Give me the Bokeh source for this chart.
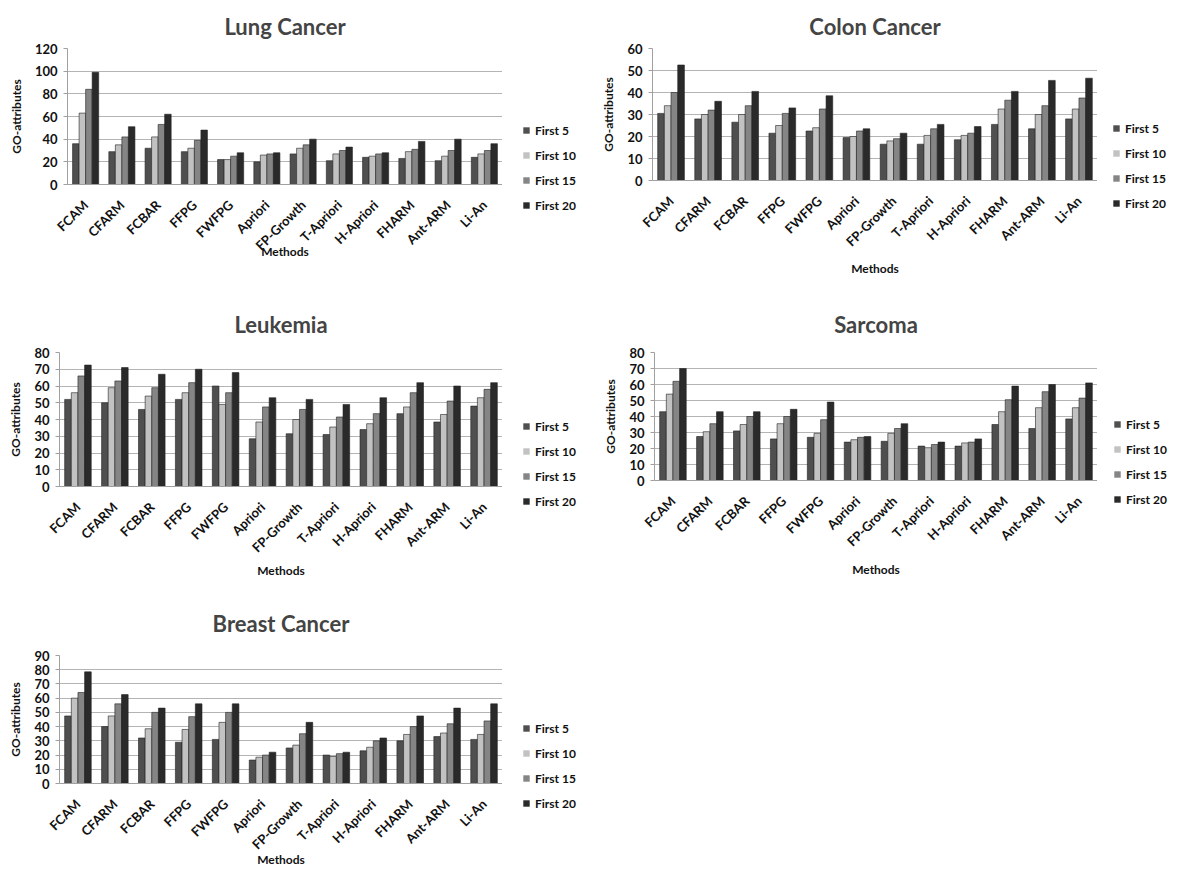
import math
from bokeh.plotting import figure
from bokeh.models import ColumnDataSource, FactorRange, Range1d, SingleIntervalTicker, Legend, LegendItem, Spacer
from bokeh.transform import dodge
from bokeh.layouts import row, column
from bokeh.embed import file_html
from bokeh.resources import INLINE

methods = ["FCAM", "CFARM", "FCBAR", "FFPG", "FWFPG", "Apriori", "FP-Growth",
           "T-Apriori", "H-Apriori", "FHARM", "Ant-ARM", "Li-An"]
series = ["First 5", "First 10", "First 15", "First 20"]

lung_f5 = [36, 29, 32, 29, 22, 20, 27, 21, 24, 23, 21, 24]
lung_f10 = [63, 35, 42, 32, 22, 26, 32, 27, 25, 29, 25, 27]
lung_f15 = [84, 42, 53, 39, 25, 27, 35, 30, 27, 31, 30, 30]
lung_f20 = [99, 51, 62, 48, 28, 28, 40, 33, 28, 38, 40, 36]

colon_f5 = [30.5, 28, 26.5, 21.5, 22.5, 19.5, 16.5, 16.5, 18.5, 25.5, 23.5, 28]
colon_f10 = [34, 30, 30, 25, 24, 20, 18, 20.5, 20.5, 32.5, 30, 32.5]
colon_f15 = [40, 32, 34, 30.5, 32.5, 22.5, 19, 23.5, 21.5, 36.5, 34, 37.5]
colon_f20 = [52.5, 36, 40.5, 33, 38.5, 23.5, 21.5, 25.5, 24.5, 40.5, 45.5, 46.5]

leuk_f5 = [52, 50, 46, 52, 60, 28.5, 31.5, 31, 34, 43.5, 38.5, 48]
leuk_f10 = [56, 59, 54, 56, 49, 38.5, 40, 35.5, 37.5, 47.5, 43, 53]
leuk_f15 = [66, 63, 59, 62, 56, 47.5, 46, 41.5, 43.5, 56, 51, 58]
leuk_f20 = [72.5, 71, 67, 70, 68, 53, 52, 49, 53, 62, 60, 62]

sarc_f5 = [43, 27.5, 31, 26, 27, 24, 24.5, 21.5, 21.5, 35, 32.5, 38.5]
sarc_f10 = [54, 30.5, 35, 35.5, 29.5, 25.5, 29.5, 20.5, 23.5, 43, 45.5, 45.5]
sarc_f15 = [62, 35.5, 40, 40, 38, 27, 32.5, 22.5, 24, 50.5, 55.5, 51.5]
sarc_f20 = [70, 43, 43, 44.5, 49, 27.5, 35.5, 24, 26, 59, 60, 61]

breast_f5 = [47.5, 40, 32, 29, 31, 16.5, 25, 20, 23, 30, 33, 31]
breast_f10 = [60, 47.5, 38.5, 38, 43, 18.5, 27, 19, 25.5, 34.5, 35.5, 34.5]
breast_f15 = [64, 56, 50, 47, 50, 20, 35, 21, 30, 40, 42, 44]
breast_f20 = [78.5, 62.5, 53, 56, 56, 22, 43, 22, 32, 47.5, 53, 56]

colors = ["#4f4f4f", "#c2c2c2", "#858585", "#2a2a2a"]
FONT = "Lato"
H = 289


def make_panel(title, vals, ymax, step, bl, fw, fh, bt, lw, title_sd, title_va,
               xl_sd, leg_dx, leg_top):
    bb = H - bt - fh
    src = ColumnDataSource(dict(m=methods, s0=vals[0], s1=vals[1], s2=vals[2], s3=vals[3]))
    p = figure(x_range=FactorRange(*methods, range_padding=0), y_range=Range1d(0, ymax),
               width=bl + fw, height=H, output_backend="svg", toolbar_location=None,
               min_border_left=bl, min_border_right=0, min_border_top=bt, min_border_bottom=bb,
               title=title)
    p.frame_align = False
    p.title.align = "center"
    p.title.vertical_align = title_va
    p.title.text_font = FONT
    p.title.text_font_size = "22px"
    p.title.text_font_style = "bold"
    p.title.standoff = title_sd
    p.outline_line_color = None
    offs = [-0.27, -0.09, 0.09, 0.27]
    keys = ["s0", "s1", "s2", "s3"]
    for i, key in enumerate(keys):
        p.vbar(x=dodge("m", offs[i], range=p.x_range), top=key, width=0.18, bottom=0,
               source=src, fill_color=colors[i], line_color="#222222", line_width=0.6)
    p.yaxis.ticker = SingleIntervalTicker(interval=step)
    p.ygrid.grid_line_color = "#b4b4b4"
    p.xgrid.grid_line_color = None
    for ax in (p.xaxis, p.yaxis):
        ax.axis_line_color = "#a0a0a0"
        ax.major_label_text_font = FONT
        ax.major_label_text_font_style = "bold"
        ax.major_label_text_font_size = "13px"
        ax.major_label_text_color = "#111111"
        ax.axis_label_text_font = FONT
        ax.axis_label_text_font_style = "bold"
        ax.axis_label_text_font_size = "12px"
        ax.axis_label_text_color = "#111111"
        ax.minor_tick_line_color = None
    p.yaxis.major_tick_line_color = "#a0a0a0"
    p.yaxis.major_tick_in = 0
    p.yaxis.major_tick_out = 4
    p.yaxis.major_label_standoff = 6
    p.yaxis.axis_label = "GO-attributes"
    p.yaxis.axis_label_standoff = 8
    p.xaxis.major_tick_line_color = None
    p.xaxis.major_label_orientation = math.pi / 4
    p.xaxis.major_label_standoff = 12
    p.xaxis.axis_label = "Methods"
    p.xaxis.axis_label_standoff = xl_sd

    # legend sits in its own narrow figure right of the plot; its swatches come
    # from the same series as zero-width bars kept far out of that figure's view
    lf = figure(width=lw, height=H, x_range=FactorRange(*methods), y_range=Range1d(-1000, -999),
                output_backend="svg", toolbar_location=None,
                min_border_left=leg_dx, min_border_right=0, min_border_top=leg_top,
                min_border_bottom=0)
    lf.frame_align = False
    lf.axis.visible = False
    lf.grid.grid_line_color = None
    lf.outline_line_color = None
    items = []
    for i, key in enumerate(keys):
        r = lf.vbar(x="m", top=key, width=0, source=src, fill_color=colors[i],
                    line_color=None)
        items.append(LegendItem(label=series[i], renderers=[r]))
    leg = Legend(items=items, location="top_left", padding=0, margin=0,
                 spacing=5, glyph_width=8, glyph_height=8, label_height=20,
                 label_standoff=5, background_fill_alpha=0, border_line_color=None,
                 label_text_font=FONT, label_text_font_style="bold",
                 label_text_font_size="12px", label_text_color="#111111")
    lf.add_layout(leg, "center")
    return row(p, lf)


p1 = make_panel("Lung Cancer", [lung_f5, lung_f10, lung_f15, lung_f20], 120, 20,
                56, 441, 137, 42, 85, 14, "top", -18, 20, 115)
p2 = make_panel("Colon Cancer", [colon_f5, colon_f10, colon_f15, colon_f20], 60, 10,
                65, 445, 133, 42, 73, 14, "top", 3, 15, 113)
p3 = make_panel("Leukemia", [leuk_f5, leuk_f10, leuk_f15, leuk_f20], 80, 10,
                50, 447, 137, 55, 85, 29, "bottom", -1, 20, 122)
p4 = make_panel("Sarcoma", [sarc_f5, sarc_f10, sarc_f15, sarc_f20], 80, 10,
                67, 443, 128, 58, 73, 29, "bottom", 4, 16, 120)
p5 = make_panel("Breast Cancer", [breast_f5, breast_f10, breast_f15, breast_f20], 90, 10,
                50, 447, 128, 72, 85, 38, "bottom", -9, 20, 135)

grid = column(row(p1, p2), row(p3, p4), row(p5))
layout = row(Spacer(width=5), column(Spacer(height=5), grid))
open("out.html", "w").write(file_html(layout, INLINE))
